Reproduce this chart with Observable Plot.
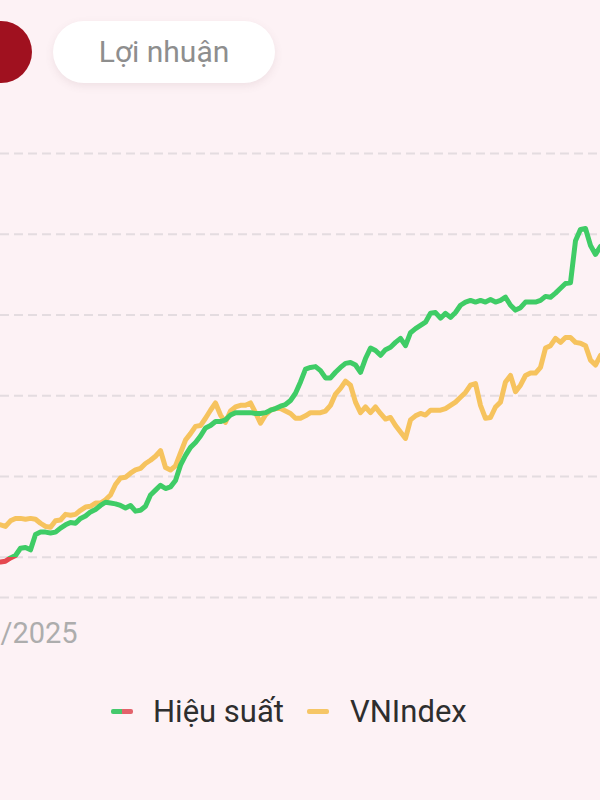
<!DOCTYPE html>
<html>
<head>
<meta charset="utf-8">
<script src="https://cdn.jsdelivr.net/npm/d3@7"></script>
<script src="https://cdn.jsdelivr.net/npm/@observablehq/plot@0.6"></script>
<style>
  html, body { margin: 0; padding: 0; background: #fdf2f5; overflow: hidden; }
  #page { position: relative; width: 600px; height: 800px; background: #fdf2f5; font-family: Roboto, "Noto Sans", sans-serif; overflow: hidden; }
  #dot { position: absolute; left: -30px; top: 21px; width: 62px; height: 62px; border-radius: 50%; background: #a0111f; }
  #pill { position: absolute; left: 53px; top: 21px; width: 222px; height: 62px; border-radius: 31px; background: #ffffff;
          box-shadow: 0 3px 8px rgba(120, 80, 90, 0.10); display: flex; align-items: center; justify-content: center;
          font-size: 30px; line-height: 30px; color: #8e8e8e; }
  #chart { position: absolute; left: 0; top: 120px; }
  .lg-icon { position: absolute; top: 709px; width: 22px; height: 5px; border-radius: 2px; }
  .lg-text { position: absolute; top: 696px; font-size: 31px; line-height: 31px; color: #2e2e2e; white-space: nowrap; }
</style>
</head>
<body>
<div id="page">
  <div id="dot"></div>
  <div id="pill">Lợi nhuận</div>
  <div id="chart"></div>
  <div class="lg-icon" style="left:111px; background: linear-gradient(to right, #45c96c 50%, #e3626b 50%);"></div>
  <div class="lg-text" id="lg1" style="left:153px;"></div>
  <div class="lg-icon" style="left:307px; background:#f6c666;"></div>
  <div class="lg-text" id="lg2" style="left:350px;"></div>
</div>
<script>
// Series names
const seriesNames = ["Hiệu suất", "VNIndex"];
const buttonLabel = "Lợi nhuận";

// Portfolio performance (%), one value per sampled trading day
const hieuSuat = [
  -0.6, -0.5, -0.1, 0.2, 1.1, 1.2, 0.9, 2.8, 3.1, 3.1,
  3.0, 3.1, 3.6, 4.0, 4.3, 4.2, 4.8, 5.1, 5.6, 5.9,
  6.4, 6.8, 6.7, 6.6, 6.4, 6.1, 6.4, 5.7, 5.8, 6.3,
  7.7, 8.3, 8.9, 8.5, 8.7, 9.5, 11.4, 12.6, 13.6, 14.2,
  15.0, 16.0, 16.3, 16.8, 16.8, 17.0, 17.6, 17.9, 17.9, 17.9,
  17.9, 17.8, 17.8, 17.9, 18.2, 18.4, 18.7, 18.9, 19.4, 20.3,
  21.7, 23.3, 23.5, 23.6, 23.1, 22.2, 22.2, 22.9, 23.5, 24.0,
  24.1, 23.8, 22.9, 24.6, 25.9, 25.6, 25.0, 25.7, 26.0, 26.6,
  27.1, 26.2, 27.8, 28.3, 28.7, 29.1, 30.2, 30.3, 29.6, 30.2,
  29.7, 30.3, 31.2, 31.6, 31.8, 31.6, 31.8, 31.6, 31.9, 31.6,
  31.8, 32.2, 31.2, 30.6, 30.9, 31.6, 31.6, 31.6, 31.8, 32.3,
  32.2, 32.7, 33.3, 33.9, 34.0, 39.2, 40.6, 40.7, 38.6, 37.5,
  38.5
];

// VNIndex change (%), same sampled days
const vnIndex = [
  4.0, 3.8, 4.5, 4.8, 4.8, 4.7, 4.8, 4.7, 4.2, 3.8,
  3.7, 4.5, 4.6, 5.3, 5.2, 5.3, 5.8, 6.2, 6.3, 6.7,
  6.7, 7.1, 7.7, 9.0, 9.8, 9.9, 10.4, 10.8, 11.0, 11.6,
  12.0, 12.5, 13.2, 11.1, 10.8, 11.3, 12.9, 14.5, 15.3, 16.2,
  16.3, 17.2, 18.2, 19.1, 17.6, 16.7, 18.1, 18.6, 18.8, 18.8,
  19.1, 17.9, 16.6, 17.6, 18.2, 18.4, 18.4, 18.1, 17.8, 17.2,
  17.2, 17.5, 17.9, 17.9, 17.9, 18.1, 18.8, 20.2, 20.9, 21.8,
  21.3, 19.2, 17.9, 18.6, 17.9, 18.6, 17.8, 17.1, 17.3, 16.3,
  15.5, 14.7, 17.0, 17.5, 17.8, 17.6, 18.2, 18.2, 18.2, 18.4,
  18.8, 19.2, 19.8, 20.4, 21.3, 21.5, 18.8, 17.2, 17.3, 18.6,
  19.2, 21.7, 22.5, 20.5, 21.3, 22.5, 22.8, 22.8, 23.5, 25.9,
  26.2, 27.1, 26.6, 27.2, 27.2, 26.6, 26.5, 26.2, 24.4, 23.8,
  25.0
];

// Grid / axis
const gridValues = [0, 10, 20, 30, 40, 50];
const yDomain = [-5, 50];
const xTicks = [0];
const xTickLabels = ["/2025"];

const colors = { up: "#3fcc66", down: "#e5484f", index: "#f6c35e", grid: "#e4dce0", tick: "#adadad" };

document.getElementById("lg1").textContent = seriesNames[0];
document.getElementById("lg2").textContent = seriesNames[1];
document.getElementById("pill").textContent = buttonLabel;

const W = 600, H = 560;

const gradientMark = (index, scales) => {
  const g = d3.create("svg:g");
  const t = scales.y(0) / H;
  const grad = g.append("defs").append("linearGradient")
    .attr("id", "perfGrad")
    .attr("gradientUnits", "userSpaceOnUse")
    .attr("x1", 0).attr("x2", 0).attr("y1", 0).attr("y2", H);
  grad.append("stop").attr("offset", t).attr("stop-color", colors.up);
  grad.append("stop").attr("offset", t).attr("stop-color", colors.down);
  return g.node();
};

const chart = Plot.plot({
  width: W,
  height: H,
  marginLeft: 0,
  marginRight: 0,
  marginTop: 33,
  marginBottom: 83,
  style: { background: "transparent", fontFamily: "Roboto, sans-serif", overflow: "hidden" },
  x: { domain: [0, hieuSuat.length - 1], axis: null },
  y: { domain: yDomain, axis: null },
  marks: [
    gradientMark,
    Plot.ruleY([...gridValues, yDomain[0]], { stroke: colors.grid, strokeWidth: 2, strokeDasharray: "9,5" }),
    Plot.axisX({
      ticks: xTicks,
      tickFormat: (d, i) => xTickLabels[i],
      tickSize: 0,
      tickPadding: 25,
      textAnchor: "start",
      fontSize: 29,
      fill: colors.tick,
      color: colors.tick
    }),
    Plot.lineY(vnIndex, { stroke: colors.index, strokeWidth: 5, strokeLinejoin: "round", strokeLinecap: "round" }),
    Plot.lineY(hieuSuat, { stroke: "url(#perfGrad)", strokeWidth: 5, strokeLinejoin: "round", strokeLinecap: "round" })
  ]
});

document.getElementById("chart").appendChild(chart);
</script>
</body>
</html>
